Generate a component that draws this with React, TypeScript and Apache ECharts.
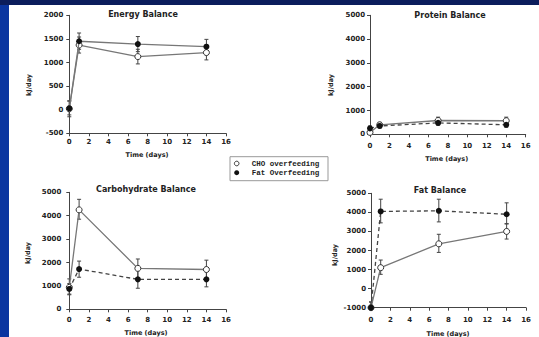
import React, { useEffect, useRef } from "react";
import * as echarts from "echarts";

const days = [0, 1, 7, 14];
const xTicks = { min: 0, max: 16, interval: 2 };

// Energy balance (kJ/day)
const energyCho = [20, 1370, 1125, 1210];
const energyChoLo = [-150, 1200, 970, 1055];
const energyChoHi = [190, 1540, 1280, 1360];
const energyFat = [30, 1450, 1390, 1335];
const energyFatLo = [-110, 1280, 1230, 1180];
const energyFatHi = [180, 1625, 1550, 1490];

// Protein balance
const proteinCho = [80, 400, 580, 570];
const proteinChoLo = [0, 300, 440, 420];
const proteinChoHi = [200, 500, 720, 720];
const proteinFat = [250, 350, 480, 400];
const proteinFatLo = [150, 260, 380, 300];
const proteinFatHi = [350, 450, 600, 500];

// Carbohydrate balance
const carbCho = [940, 4250, 1750, 1700];
const carbChoLo = [620, 3850, 1350, 1300];
const carbChoHi = [1300, 4700, 2150, 2100];
const carbFat = [870, 1720, 1280, 1280];
const carbFatLo = [650, 1370, 900, 960];
const carbFatHi = [1100, 2060, 1650, 1650];

// Fat balance
const fatCho = [-1000, 1100, 2350, 3000];
const fatChoLo = [-1000, 750, 1900, 2600];
const fatChoHi = [-700, 1500, 2850, 3400];
const fatFat = [-1000, 4050, 4080, 3900];
const fatFatLo = [-1000, 3450, 3500, 3400];
const fatFatHi = [-700, 4690, 4690, 4500];

const titles = ["Energy Balance", "Protein Balance", "Carbohydrate Balance", "Fat Balance"];
const yRanges = [
  { min: -500, max: 2000, interval: 500 },
  { min: 0, max: 5000, interval: 1000 },
  { min: 0, max: 5000, interval: 1000 },
  { min: -1000, max: 5000, interval: 1000 },
];
const legendNames = ["CHO overfeeding", "Fat Overfeeding"];

const FONT = "DejaVu Sans";
const TXT = "#222";
const AX = "#444";

export default function App() {
  const ref = useRef<HTMLDivElement>(null);
  useEffect(() => {
    const chart = echarts.init(ref.current!, null, { renderer: "svg" });

    const grids = [
      { left: 69.3, top: 15.3, width: 156.7, height: 118 },
      { left: 370, top: 15.3, width: 155.7, height: 119 },
      { left: 69.3, top: 192.3, width: 156.7, height: 117 },
      { left: 371, top: 193.3, width: 155, height: 114.4 },
    ];
    const xLabelMargins = [5, 8, 7, 9];
    const yLabelMargins = [6, 5, 8, 5];

    const panels = [
      { cho: energyCho, choLo: energyChoLo, choHi: energyChoHi, fat: energyFat, fatLo: energyFatLo, fatHi: energyFatHi, fatDash: false },
      { cho: proteinCho, choLo: proteinChoLo, choHi: proteinChoHi, fat: proteinFat, fatLo: proteinFatLo, fatHi: proteinFatHi, fatDash: true },
      { cho: carbCho, choLo: carbChoLo, choHi: carbChoHi, fat: carbFat, fatLo: carbFatLo, fatHi: carbFatHi, fatDash: true },
      { cho: fatCho, choLo: fatChoLo, choHi: fatChoHi, fat: fatFat, fatLo: fatFatLo, fatHi: fatFatHi, fatDash: true },
    ];

    const errRender = (params: any, api: any) => {
      const x = api.value(0);
      const lo = api.coord([x, api.value(1)]);
      const hi = api.coord([x, api.value(2)]);
      const st = { stroke: AX, lineWidth: 1 };
      return {
        type: "group",
        children: [
          { type: "line", shape: { x1: lo[0], y1: lo[1], x2: hi[0], y2: hi[1] }, style: st },
          { type: "line", shape: { x1: hi[0] - 2, y1: hi[1], x2: hi[0] + 2, y2: hi[1] }, style: st },
          { type: "line", shape: { x1: lo[0] - 2, y1: lo[1], x2: lo[0] + 2, y2: lo[1] }, style: st },
        ],
      };
    };

    const series: any[] = [];
    panels.forEach((p, i) => {
      series.push({
        type: "custom",
        xAxisIndex: i,
        yAxisIndex: i,
        renderItem: errRender,
        z: 1,
        silent: true,
        data: days.map((d, k) => [d, p.choLo[k], p.choHi[k]]),
      });
      series.push({
        type: "custom",
        xAxisIndex: i,
        yAxisIndex: i,
        renderItem: errRender,
        z: 1,
        silent: true,
        data: days.map((d, k) => [d, p.fatLo[k], p.fatHi[k]]),
      });
      series.push({
        name: legendNames[0],
        type: "line",
        xAxisIndex: i,
        yAxisIndex: i,
        z: 3,
        data: days.map((d, k) => [d, p.cho[k]]),
        symbol: "circle",
        symbolSize: 6,
        itemStyle: { color: "#fff", borderColor: "#333", borderWidth: 1 },
        lineStyle: { color: "#777", width: 1.3, type: "solid" },
      });
      series.push({
        name: legendNames[1],
        type: "line",
        xAxisIndex: i,
        yAxisIndex: i,
        z: 4,
        data: days.map((d, k) => [d, p.fat[k]]),
        symbol: "circle",
        symbolSize: 6,
        itemStyle: { color: "#111", borderColor: "#111", borderWidth: 0 },
        lineStyle: { color: p.fatDash ? "#444" : "#777", width: 1.3, type: p.fatDash ? [4, 3] : "solid" },
      });
    });

    const titlePos = [
      [143, 14.7],
      [450, 15],
      [146, 189],
      [440, 190.7],
    ];
    const timePos = [
      [147, 155],
      [446.7, 159.3],
      [146, 333],
      [448, 334],
    ];
    const yNamePos = [
      [29, 85],
      [331, 85],
      [28, 253],
      [335, 255],
    ];

    const graphic: any[] = [
      { type: "rect", shape: { x: 0, y: 0, width: 9, height: 337 }, style: { fill: "#0a35a0" }, z: 10 },
      { type: "rect", shape: { x: 0, y: 0, width: 539, height: 5 }, style: { fill: "#0b1d5c" }, z: 11 },
      { type: "rect", shape: { x: 230, y: 156.7, width: 98, height: 24 }, style: { fill: "#fff", stroke: "#999", lineWidth: 1 } },
      { type: "circle", shape: { cx: 236.7, cy: 163.5, r: 2.3 }, style: { fill: "#fff", stroke: "#333", lineWidth: 1 } },
      { type: "circle", shape: { cx: 236.7, cy: 172.7, r: 2.5 }, style: { fill: "#111" } },
      {
        type: "text", x: 251.7, y: 163.5,
        style: { text: legendNames[0], fill: TXT, font: "bold 7.5px 'Liberation Mono'", textVerticalAlign: "middle" },
      },
      {
        type: "text", x: 251.7, y: 172.7,
        style: { text: legendNames[1], fill: TXT, font: "bold 7.5px 'Liberation Mono'", textVerticalAlign: "middle" },
      },
    ];
    titles.forEach((t, i) => {
      graphic.push({
        type: "text", x: titlePos[i][0], y: titlePos[i][1],
        style: { text: t, fill: TXT, font: `bold 8px '${FONT}'`, textAlign: "center", textVerticalAlign: "middle" },
      });
      graphic.push({
        type: "text", x: timePos[i][0], y: timePos[i][1],
        style: { text: "Time (days)", fill: TXT, font: `bold 6.5px '${FONT}'`, textAlign: "center", textVerticalAlign: "middle" },
      });
      graphic.push({
        type: "text", x: yNamePos[i][0], y: yNamePos[i][1], rotation: Math.PI / 2,
        style: { text: "kJ/day", fill: TXT, font: `bold 6.5px '${FONT}'`, textAlign: "center", textVerticalAlign: "middle" },
      });
    });

    const plain = (v: number) => String(v);

    chart.setOption({
      animation: false,
      backgroundColor: "#fff",
      grid: grids,
      xAxis: grids.map((_, i) => ({
        type: "value",
        gridIndex: i,
        ...xTicks,
        axisLine: { show: true, onZero: false, lineStyle: { color: AX, width: 1 } },
        axisTick: { show: true, length: 3, lineStyle: { color: AX } },
        splitLine: { show: false },
        axisLabel: { fontFamily: FONT, fontWeight: "bold", fontSize: 7, color: TXT, margin: xLabelMargins[i], formatter: plain },
      })),
      yAxis: grids.map((_, i) => ({
        type: "value",
        gridIndex: i,
        ...yRanges[i],
        axisLine: { show: true, onZero: false, lineStyle: { color: AX, width: 1 } },
        axisTick: { show: true, length: 3, lineStyle: { color: AX } },
        splitLine: { show: false },
        axisLabel: { fontFamily: FONT, fontWeight: "bold", fontSize: 7, color: TXT, margin: yLabelMargins[i], formatter: plain },
      })),
      series,
      graphic,
    });
    return () => chart.dispose();
  }, []);
  return <div ref={ref} style={{ position: "fixed", left: 0, top: 0, width: 539, height: 337 }} />;
}
